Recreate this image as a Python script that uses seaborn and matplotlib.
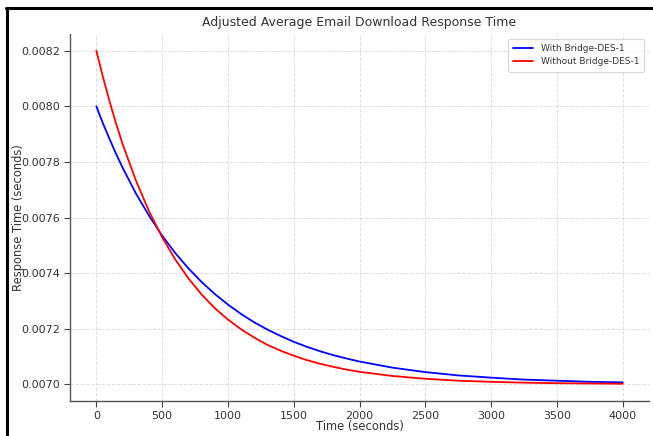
import matplotlib
matplotlib.use("Agg")
import matplotlib.pyplot as plt
import seaborn as sns
import pandas as pd
from matplotlib.lines import Line2D

time_s = [0, 50, 100, 150, 200, 300, 400, 500, 600, 700, 800, 900, 1000,
          1100, 1200, 1300, 1400, 1500, 1600, 1700, 1800, 1900, 2000,
          2250, 2500, 2750, 3000, 3250, 3500, 3750, 4000]
with_bridge = [0.008000, 0.007939, 0.007883, 0.007829, 0.007779, 0.007687, 0.007607,
               0.007535, 0.007472, 0.007417, 0.007368, 0.007325, 0.007287,
               0.007253, 0.007223, 0.007197, 0.007174, 0.007153, 0.007135, 0.007119,
               0.007105, 0.007093, 0.007082,
               0.007060, 0.007044, 0.007032, 0.007024, 0.007017, 0.007013, 0.007009, 0.007007]
without_bridge = [0.008200, 0.008106, 0.008019, 0.007938, 0.007864, 0.007734, 0.007623,
                  0.007529, 0.007449, 0.007381, 0.007323, 0.007274, 0.007233,
                  0.007198, 0.007168, 0.007142, 0.007121, 0.007103, 0.007087, 0.007074,
                  0.007063, 0.007053, 0.007045,
                  0.007030, 0.007020, 0.007013, 0.007009, 0.007006, 0.007004, 0.007003, 0.007002]
series_names = ["With Bridge-DES-1", "Without Bridge-DES-1"]
x_ticks = [0, 500, 1000, 1500, 2000, 2500, 3000, 3500, 4000]
y_ticks = [0.0070, 0.0072, 0.0074, 0.0076, 0.0078, 0.0080, 0.0082]

df = pd.DataFrame({
    "Time": time_s * 2,
    "Response": with_bridge + without_bridge,
    "Series": [series_names[0]] * len(time_s) + [series_names[1]] * len(time_s),
})

sns.set_style("white")
plt.rcParams["font.family"] = ["DejaVu Sans"]

fig = plt.figure(figsize=(6.53, 4.36), dpi=100)
ax = fig.add_axes([70 / 653, 1 - 401 / 436, (649 - 70) / 653, (401 - 34) / 436])

sns.lineplot(data=df, x="Time", y="Response", hue="Series",
             palette={series_names[0]: "blue", series_names[1]: "red"},
             linewidth=1.3, ax=ax, legend=True)

ax.set_xlim(-200, 4200)
ax.set_ylim(0.00694, 0.00826)
ax.set_xticks(x_ticks)
ax.set_yticks(y_ticks)
ax.set_yticklabels([f"{v:.4f}" for v in y_ticks])
ax.grid(True, linestyle="--", color="#dddddd", linewidth=0.7)
ax.tick_params(axis="both", labelsize=8, colors="#444444", length=4, width=0.8,
               direction="out", left=True, bottom=True, pad=3)
for lab in ax.get_xticklabels() + ax.get_yticklabels():
    lab.set_color("#333333")
for s in ["top", "right"]:
    ax.spines[s].set_visible(False)
for s in ["left", "bottom"]:
    ax.spines[s].set_color("#555555")
    ax.spines[s].set_linewidth(1.0)

ax.set_title("Adjusted Average Email Download Response Time", fontsize=9, color="#333333", pad=6)
ax.set_xlabel("Time (seconds)", fontsize=8.3, color="#333333")
ax.set_ylabel("Response Time (seconds)", fontsize=8.3, color="#333333")
ax.yaxis.set_label_coords((25 - 70) / 579, 0.5)
ax.xaxis.set_label_coords(0.5, (401 - 420) / 367)

leg = ax.legend(loc="upper right", fontsize=6.5, frameon=True, handlelength=2.2,
                borderpad=0.6, labelspacing=0.5)
leg.get_frame().set_edgecolor("#cccccc")
leg.get_frame().set_linewidth(0.8)
for t in leg.get_texts():
    t.set_color("#333333")

# screenshot frame lines (top and left)
fig.add_artist(Line2D([6 / 653, 1], [1 - 8.5 / 436, 1 - 8.5 / 436], color="black",
                      linewidth=2.2, transform=fig.transFigure))
fig.add_artist(Line2D([6.5 / 653, 6.5 / 653], [0, 1 - 8.5 / 436], color="black",
                      linewidth=2.2, transform=fig.transFigure))

fig.savefig("out.png", dpi=100)
